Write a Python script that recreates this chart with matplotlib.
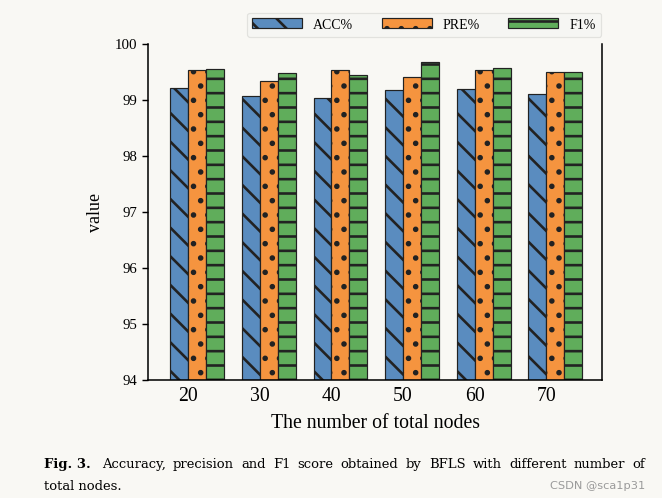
import matplotlib
matplotlib.use("Agg")
import matplotlib.pyplot as plt
import numpy as np

# ---- data ----
nodes = ["20", "30", "40", "50", "60", "70"]
acc = [99.21, 99.07, 99.04, 99.17, 99.19, 99.10]
pre = [99.53, 99.33, 99.53, 99.40, 99.54, 99.49]
f1 = [99.55, 99.47, 99.44, 99.68, 99.56, 99.49]
series_labels = ["ACC%", "PRE%", "F1%"]
yticks = [94, 95, 96, 97, 98, 99, 100]
caption_bold = "Fig. 3."
caption_line1 = "Accuracy, precision and F1 score obtained by BFLS with different number of"
caption_line2 = "total nodes."
watermark = "CSDN @sca1p31"

plt.rcParams['font.family'] = ['Liberation Serif', 'DejaVu Serif']
plt.rcParams['hatch.linewidth'] = 2.2
plt.rcParams['hatch.color'] = 'black'

BG = '#f9f8f4'
DPI = 86
fig = plt.figure(figsize=(662.3 / DPI, 498.3 / DPI), dpi=DPI, facecolor=BG)
ax = fig.add_axes([148 / 662, 1 - 380 / 498, (602 - 148) / 662, (380 - 44) / 498])
ax.set_facecolor(BG)

x = np.arange(len(nodes))
w = 0.25
colors = ['#5a8cbf', '#f5943f', '#60ad5b']
hatches = ['\\', '.', '-']
for k, (vals, lab) in enumerate(zip([acc, pre, f1], series_labels)):
    kw = dict(color=colors[k], linewidth=1.0, hatch=hatches[k], label=lab, zorder=2)
    try:
        ax.bar(x - w / 2 + k * w, np.array(vals) - 94, w, bottom=94,
               edgecolor='#4a4a4a', hatchcolor='black', **kw)
    except Exception:
        ax.bar(x - w / 2 + k * w, np.array(vals) - 94, w, bottom=94,
               edgecolor='#222222', **kw)

ax.set_ylim(94, 100)
ax.set_xlim(-0.56, 5.78)
ax.set_yticks(yticks)
ax.set_yticklabels([str(t) for t in yticks], fontsize=12.5)
ax.set_xticks(x)
ax.set_xticklabels(nodes, fontsize=16.5)
ax.tick_params(axis='y', direction='out', length=5, width=1.2, pad=4)
ax.tick_params(axis='x', length=0, pad=6)
for s in ['left', 'bottom', 'right']:
    ax.spines[s].set_linewidth(1.3)
    ax.spines[s].set_color('black')
ax.spines['top'].set_visible(False)

ax.set_xlabel("The number of total nodes", fontsize=16.5, labelpad=6)
ax.set_ylabel("value", fontsize=15, labelpad=9)

leg = ax.legend(loc='lower right', bbox_to_anchor=(1.0 + 6 / 454, 1.0), ncol=3,
                fontsize=11.6, handlelength=3.6, handleheight=0.75,
                handletextpad=0.8, columnspacing=2.05, borderaxespad=0.5,
                frameon=True, fancybox=True)
leg.get_frame().set_facecolor('#f6f6f3')
leg.get_frame().set_edgecolor('#e2e2de')
leg.get_frame().set_alpha(1.0)

# ---- caption (justified first line) ----
CAP_FONT = 'DejaVu Serif'
CAP_SIZE = 11
y1 = 1 - 464 / 498
y2 = 1 - 486 / 498
left_px, right_px = 44, 645
renderer = fig.canvas.get_renderer()
tb = fig.text(left_px / 662, y1, caption_bold, fontsize=CAP_SIZE, fontweight='bold',
              family=CAP_FONT, va='center', ha='left')
bold_w = tb.get_window_extent(renderer).width
words = caption_line1.split()
start_px = left_px + bold_w + 11
texts = [fig.text(0, y1, wd, fontsize=CAP_SIZE, family=CAP_FONT, va='center', ha='left')
         for wd in words]
widths = [t.get_window_extent(renderer).width for t in texts]
gap = (right_px - start_px - sum(widths)) / (len(words) - 1)
pos = start_px
for t, wdt in zip(texts, widths):
    t.set_x(pos / 662)
    pos += wdt + gap
fig.text(left_px / 662, y2, caption_line2, fontsize=CAP_SIZE, family=CAP_FONT,
         va='center', ha='left')
fig.text(645 / 662, y2, watermark, fontsize=9.5,
         family='DejaVu Sans', color='#9a9a9a', va='center', ha='right')

fig.savefig("out.png", dpi=DPI, facecolor=BG)
